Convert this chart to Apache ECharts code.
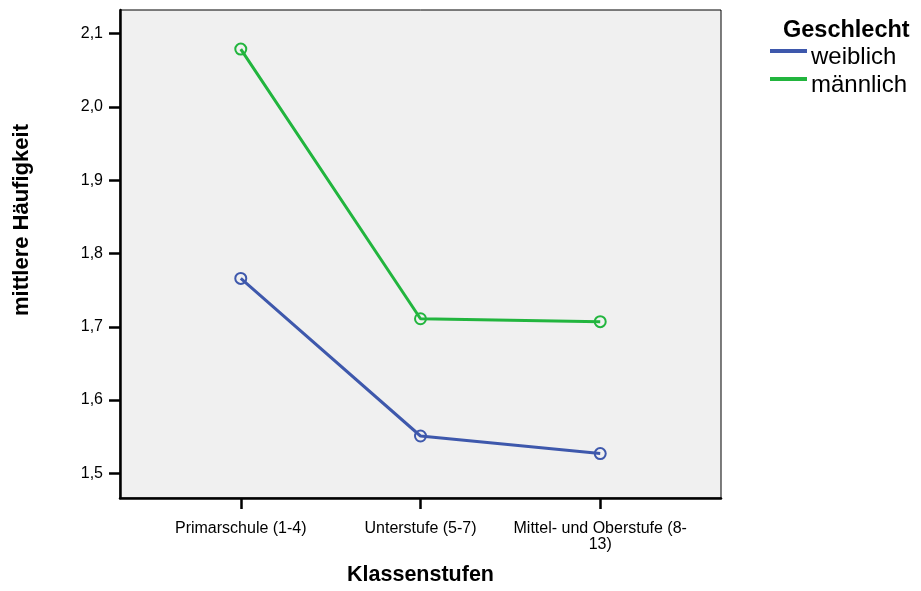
<!DOCTYPE html>
<html><head><meta charset="utf-8">
<script src="https://cdn.jsdelivr.net/npm/echarts@6/dist/echarts.min.js"></script>
<style>html,body{margin:0;padding:0;background:#fff;overflow:hidden}#c{width:921px;height:591px}</style>
</head><body><div id="c"></div>
<script>
var categories = ['Primarschule (1-4)', 'Unterstufe (5-7)', 'Mittel- und Oberstufe (8-\n13)'];
var weiblich = [1.766, 1.551, 1.527];
var maennlich = [2.079, 1.711, 1.707];
var yTicks = [1.5, 1.6, 1.7, 1.8, 1.9, 2.0, 2.1];
var seriesNames = ['weiblich', 'männlich'];

var font = 'Liberation Sans, Arial, sans-serif';
var blue = '#3e58ac', green = '#22b53e';
var chart = echarts.init(document.getElementById('c'), null, {renderer: 'canvas'});
function pts(arr) { return arr.map(function (v, i) { return [i, v]; }); }
chart.setOption({
  animation: false,
  textStyle: {fontFamily: font},
  grid: {left: 120, right: 200, top: 10, bottom: 86, show: true, backgroundColor: '#f0f0f0', borderColor: '#000', borderWidth: 1},
  title: {text: 'Geschlecht', left: 783, top: 19, padding: 0, textStyle: {fontFamily: font, fontSize: 23.5, fontWeight: 'bold', color: '#000'}},
  legend: {
    orient: 'vertical', left: 770, top: 33, padding: 0, itemWidth: 35, itemHeight: 2, itemGap: -8,
    icon: 'rect', data: seriesNames, selectedMode: false,
    formatter: '{t|{name}}',
    textStyle: {fontFamily: font, fontSize: 24, color: '#000',
      rich: {t: {fontFamily: font, fontSize: 24, lineHeight: 23, color: '#000', padding: [12, 0, 0, 0]}}}
  },
  xAxis: {
    type: 'value', min: -0.672, max: 2.672,
    splitLine: {show: false},
    axisLine: {onZero: false, lineStyle: {color: '#000', width: 2.5}},
    axisTick: {customValues: [0, 1, 2], length: 11, lineStyle: {color: '#000', width: 2.5}},
    axisLabel: {customValues: [0, 1, 2], formatter: function (v) { return categories[Math.round(v)]; }, margin: 23, fontSize: 16, color: '#000', lineHeight: 16, fontFamily: font},
    name: 'Klassenstufen', nameLocation: 'middle', nameGap: 66,
    nameTextStyle: {fontFamily: font, fontSize: 21.5, fontWeight: 'bold', color: '#000'}
  },
  yAxis: {
    type: 'value', min: 1.4664, max: 2.1323,
    splitLine: {show: false},
    axisLine: {onZero: false, lineStyle: {color: '#000', width: 2.5}},
    axisTick: {customValues: yTicks, length: 11, lineStyle: {color: '#000', width: 2.5}},
    axisLabel: {customValues: yTicks, formatter: function (v) { return v.toFixed(1).replace('.', ','); }, margin: 17, fontSize: 16, color: '#000', fontFamily: font}
  },
  graphic: [{
    type: 'text', x: 22, y: 220, rotation: Math.PI / 2,
    style: {text: 'mittlere Häufigkeit', fontFamily: font, fontSize: 22, fontWeight: 'bold', fill: '#000', align: 'center', verticalAlign: 'middle'}
  }],
  series: [
    {name: seriesNames[0], type: 'line', data: pts(weiblich), symbol: 'circle', symbolSize: 11,
     lineStyle: {color: blue, width: 3}, itemStyle: {color: 'rgba(0,0,0,0)', borderColor: blue, borderWidth: 2}},
    {name: seriesNames[1], type: 'line', data: pts(maennlich), symbol: 'circle', symbolSize: 11,
     lineStyle: {color: green, width: 3}, itemStyle: {color: 'rgba(0,0,0,0)', borderColor: green, borderWidth: 2}}
  ]
});
</script></body></html>
